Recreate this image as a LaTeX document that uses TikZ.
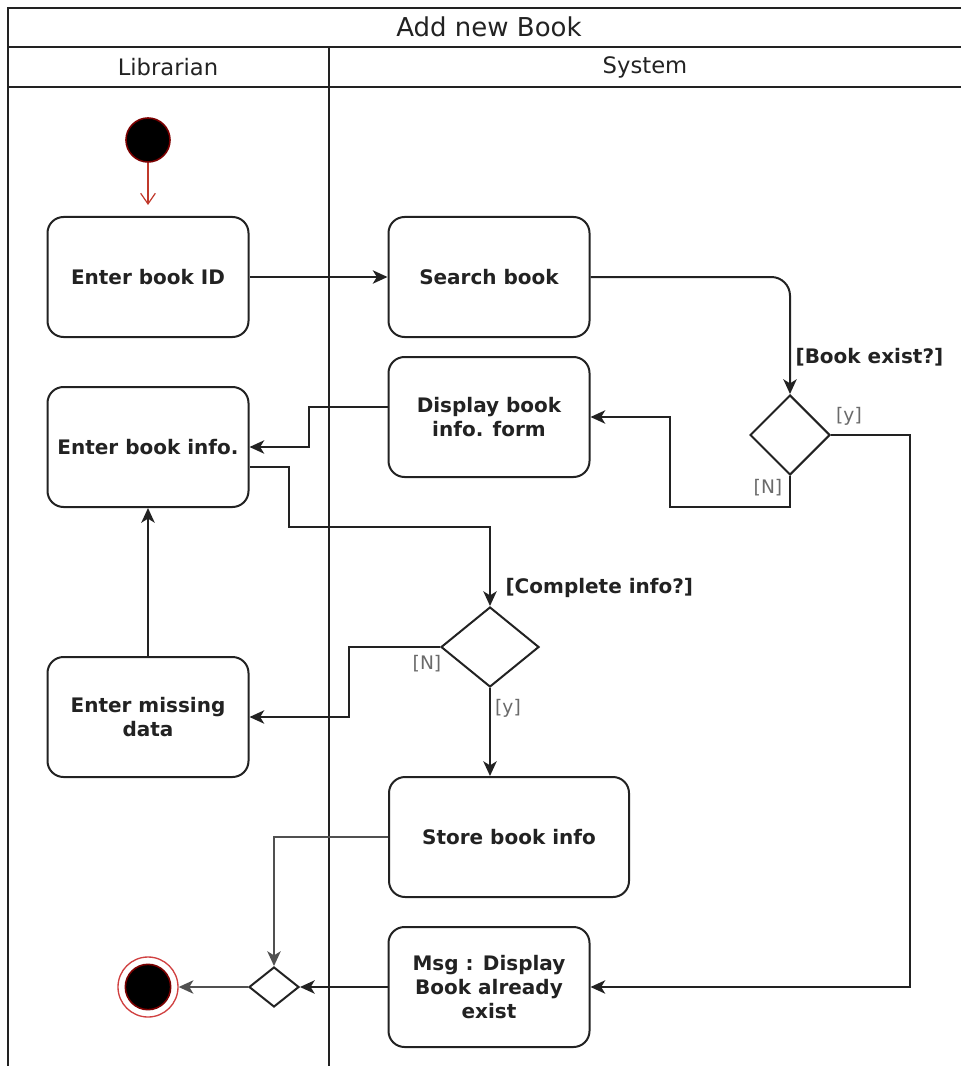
\documentclass[tikz,border=0pt]{standalone}
\usepackage{fontspec}
\setmainfont{DejaVu Sans}
\usetikzlibrary{arrows.meta,shapes.geometric,calc}
\definecolor{ink}{HTML}{222222}
\definecolor{soft}{HTML}{505050}
\definecolor{guardtxt}{HTML}{6A6A6A}
\definecolor{nodered}{HTML}{7A0000}
\definecolor{startarrow}{HTML}{C0392B}
\definecolor{ringred}{HTML}{D04040}

\begin{document}
\begin{tikzpicture}[x=0.75pt,y=-0.75pt,
  act/.style={draw=ink, line width=1.5pt, rounded corners=12pt,
    minimum width=150.75pt, minimum height=90pt, inner sep=2pt,
    align=center, text=ink, font=\bfseries\fontsize{15}{18}\selectfont},
  dec/.style={diamond, draw=ink, line width=1.5pt, inner sep=0pt,
    minimum width=60pt, minimum height=60pt},
  flow/.style={draw=ink, line width=1.5pt, -{Stealth[length=11pt,width=10pt,inset=3pt]}},
  softflow/.style={flow, draw=soft},
  guard/.style={text=guardtxt, font=\fontsize{14}{16}\selectfont, inner sep=1pt},
  cond/.style={text=ink, font=\bfseries\fontsize{15}{18}\selectfont, inner sep=1pt},
  lane/.style={draw=ink, line width=1.8pt},
  lanetitle/.style={text=ink, font=\fontsize{17}{20}\selectfont},
]
\useasboundingbox (0,0) rectangle (961,1066);

% swimlane frame
\draw[lane] (961,8) -- (8,8) -- (8,1066);
\draw[lane] (8,47) -- (961,47);
\draw[lane] (8,87) -- (961,87);
\draw[lane] (329,47) -- (329,1066);
\node[text=ink, font=\fontsize{19.5}{22}\selectfont] (title) at (489,27) {Add new Book};
\node[lanetitle] (laneA) at (168,67) {Librarian};
\node[lanetitle] (laneB) at (645,67) {System};

% start
\node[circle, fill=black, draw=nodered, line width=1.2pt, minimum size=33pt, inner sep=0pt] (start) at (148,140) {};
\coordinate (startend) at (148,205);

% actions
\node[act] (id)      at (148,277) {Enter book ID};
\node[act] (search)  at (489,277) {Search book};
\node[act] (display) at (489,417) {Display book\\info. form};
\node[act] (info)    at (148,447) {Enter book info.};
\node[act] (missing) at (148,717) {Enter missing\\data};
\node[act, minimum width=180pt] (store) at (509,837) {Store book info};
\node[act] (msg)     at (489,987) {Msg : Display\\Book already\\exist};

% decisions
\node[dec] (exist) at (790,435) {};
\node[dec, minimum width=73.5pt] (complete) at (490,647) {};
\node[dec, minimum width=37.5pt, minimum height=30pt] (merge) at (274,987) {};

% final node
\node[circle, draw=ringred, line width=1pt, minimum size=45pt, inner sep=0pt] (final) at (148,987) {};
\node[circle, fill=black, draw=nodered, line width=1.2pt, minimum size=34pt, inner sep=0pt] (finalcore) at (final) {};

% flows
\draw[draw=startarrow, line width=0.9pt, -{Straight Barb[length=8pt,width=11pt]}] (start) -- (startend);
\draw[flow] (id) -- (search);
\draw[flow, rounded corners=14pt] (search.east) -| (exist.north);
\node[cond, anchor=west] (existlbl) at (794,357) {[Book exist?]};

\coordinate (nbend) at (670,507);
\draw[flow] (exist.south) |- (nbend) |- (display.east);
\node[guard] (existN) at (768,488) {[N]};

\coordinate (ybend) at (910,435);
\draw[flow] (exist.east) -- (ybend) |- (msg.east);
\node[guard] (existY) at (849,416) {[y]};

\coordinate (dibend) at (309,447);
\draw[flow] ($(display.west)+(0,-10)$) -| (dibend) -- (info.east);

\coordinate (icbend) at (289,527);
\draw[flow] ($(info.east)+(0,20)$) -| (icbend) -| (complete.north);
\node[cond, anchor=west] (completelbl) at (504,588) {[Complete info?]};

\coordinate (cnbend) at (349,717);
\draw[flow] (complete.west) -| (cnbend) -- (missing.east);
\node[guard] (completeN) at (427,664) {[N]};

\draw[flow] (complete.south) -- (complete.south |- store.north);
\node[guard] (completeY) at (508,708) {[y]};

\draw[flow] (missing.north) -- (info.south);

\draw[softflow] (store.west) -| (merge.north);
\draw[flow] (msg.west) -- (merge.east);
\draw[softflow] (merge.west) -- (final.east);
\end{tikzpicture}
\end{document}
